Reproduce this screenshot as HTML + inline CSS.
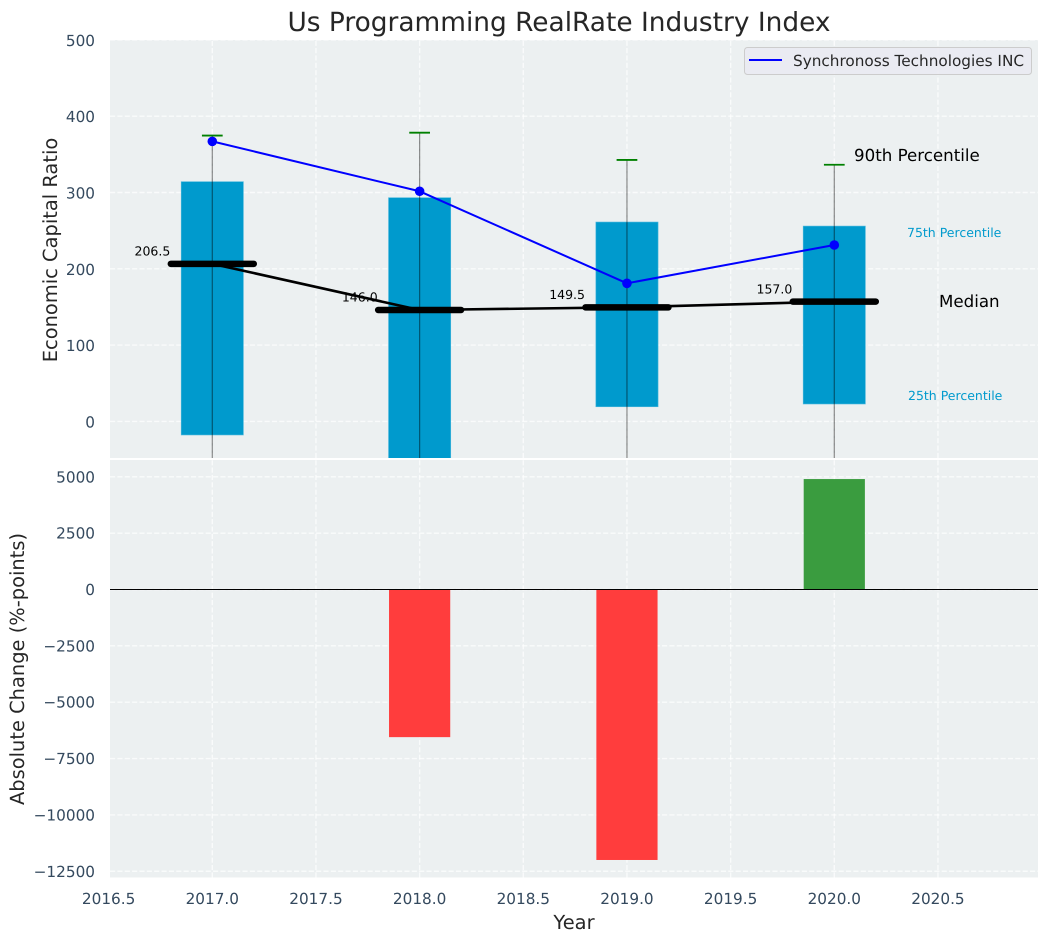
<!DOCTYPE html>
<html lang="en">
<head>
<meta charset="utf-8">
<title>Us Programming RealRate Industry Index</title>
<style>
html,body{margin:0;padding:0;background:#fff;width:1048px;height:942px;overflow:hidden}
svg{display:block;font-family:"DejaVu Sans","Liberation Sans",sans-serif;text-rendering:geometricPrecision}
</style>
</head>
<body>
<svg id="chart" xmlns="http://www.w3.org/2000/svg" width="1048" height="942" viewBox="0 0 1048 942">
  <defs>
    <clipPath id="clip-top"><rect x="110" y="40" width="928" height="418"/></clipPath>
    <clipPath id="clip-bottom"><rect x="110" y="460" width="928" height="417.5"/></clipPath>
  </defs>
  <rect x="110" y="40" width="928" height="418" fill="#ecf0f1"/>
  <rect x="110" y="460" width="928" height="417.5" fill="#ecf0f1"/>
  <g id="grid-top" clip-path="url(#clip-top)"></g>
  <g id="grid-bottom" clip-path="url(#clip-bottom)"></g>
  <g id="marks-top" clip-path="url(#clip-top)"></g>
  <g id="marks-bottom" clip-path="url(#clip-bottom)"></g>
  <g id="median-labels"></g>
  <g id="ticks"></g>

  <text x="559" y="31" text-anchor="middle" font-size="26.4px" fill="#262626">Us Programming RealRate Industry Index</text>
  <text transform="translate(57,250) rotate(-90)" text-anchor="middle" font-size="19.44px" fill="#262626">Economic Capital Ratio</text>
  <text transform="translate(24,669) rotate(-90)" text-anchor="middle" font-size="19.44px" fill="#262626">Absolute Change (%-points)</text>
  <text x="574" y="929" text-anchor="middle" font-size="19.44px" fill="#262626">Year</text>

  <text x="854" y="161" font-size="16.67px" fill="#000">90th Percentile</text>
  <text x="907" y="237" font-size="12.5px" fill="#009acd">75th Percentile</text>
  <text x="939" y="307" font-size="16.67px" fill="#000">Median</text>
  <text x="908" y="400" font-size="12.5px" fill="#009acd">25th Percentile</text>

  <g>
    <rect x="744.5" y="47.5" width="287" height="27" rx="3" fill="#eaeaf2" fill-opacity="0.9" stroke="#cccccc"/>
    <line x1="749" y1="60" x2="782" y2="60" stroke="#0000ff" stroke-width="2"/>
    <text x="793" y="66" font-size="15.28px" fill="#262626">Synchronoss Technologies INC</text>
  </g>
</svg>
<script>
const years = [2017, 2018, 2019, 2020];
const p90 = [374.6, 378.4, 342.7, 336.4];
const p75 = [314.2, 293.2, 261.3, 256];
const medians = [206.5, 146.0, 149.5, 157.0];
const p25 = [-17.8, -60, 19.2, 22.8];
const p10 = [-90, -130, -70, -70];
const companyValues = [367, 301.6, 181, 231.2];
const absoluteChange = [0, -6550, -12000, 4900];
const medianLabels = ['206.5', '146.0', '149.5', '157.0'];
const xTicks = [2016.5, 2017, 2017.5, 2018, 2018.5, 2019, 2019.5, 2020, 2020.5];
const xTickLabels = ['2016.5', '2017.0', '2017.5', '2018.0', '2018.5', '2019.0', '2019.5', '2020.0', '2020.5'];
const yTopTicks = [0, 100, 200, 300, 400, 500];
const yTopTickLabels = ['0', '100', '200', '300', '400', '500'];
const yBottomTicks = [5000, 2500, 0, -2500, -5000, -7500, -10000, -12500];
const yBottomTickLabels = ['5000', '2500', '0', '\u22122500', '\u22125000', '\u22127500', '\u221210000', '\u221212500'];

const NS = 'http://www.w3.org/2000/svg';
const xScale = function (v) { return 212.3 + 207.33 * (v - 2017); };
const yTop = function (v) { return 421.4 - 0.763 * v; };
const yBottom = function (v) { return 589.5 - 0.02254 * v; };

function make(parent, tag, attrs, text) {
  const el = document.createElementNS(NS, tag);
  Object.keys(attrs).forEach(function (k) { el.setAttribute(k, attrs[k]); });
  if (text !== undefined) el.textContent = text;
  parent.appendChild(el);
  return el;
}

const gridTop = document.getElementById('grid-top');
const gridBottom = document.getElementById('grid-bottom');
const marksTop = document.getElementById('marks-top');
const marksBottom = document.getElementById('marks-bottom');
const labelsGroup = document.getElementById('median-labels');
const ticksGroup = document.getElementById('ticks');
const gridStyle = { stroke: '#ffffff', 'stroke-width': 1.39, 'stroke-dasharray': '5.14 2.22', 'stroke-opacity': 0.7 };

xTicks.forEach(function (t, i) {
  const x = xScale(t);
  const a = make(gridTop, 'line', Object.assign({ x1: x, x2: x, y1: 458, y2: 40 }, gridStyle));
  
  
  const b = make(gridBottom, 'line', Object.assign({ x1: x, x2: x, y1: 877.5, y2: 460 }, gridStyle));
  
  
  const l = make(ticksGroup, 'text', { x: x, y: 904, 'text-anchor': 'middle', 'font-size': '15.28px', fill: '#34495e' }, xTickLabels[i]);
  
  
});

yTopTicks.forEach(function (t, i) {
  const y = yTop(t);
  const g = make(gridTop, 'line', Object.assign({ x1: 110, x2: 1038, y1: y, y2: y }, gridStyle));
  
  
  const l = make(ticksGroup, 'text', { x: 95, y: y + 6, 'text-anchor': 'end', 'font-size': '15.28px', fill: '#34495e' }, yTopTickLabels[i]);
  
  
});

yBottomTicks.forEach(function (t, i) {
  const y = yBottom(t);
  const g = make(gridBottom, 'line', Object.assign({ x1: 110, x2: 1038, y1: y, y2: y }, gridStyle));
  
  
  const l = make(ticksGroup, 'text', { x: 95, y: y + 5.5, 'text-anchor': 'end', 'font-size': '15.28px', fill: '#34495e' }, yBottomTickLabels[i]);
  
  
});

const halfBar = 0.15 * 207.33;
const halfMedian = 0.2 * 207.33;
const halfCap = 0.05 * 207.33;

years.forEach(function (yr, i) {
  const x = xScale(yr);
  const bar = make(marksTop, 'rect', {
    x: x - halfBar, width: halfBar * 2,
    y: yTop(p75[i]), height: yTop(p25[i]) - yTop(p75[i]),
    fill: '#009acd', stroke: '#4db8dc', 'stroke-width': 0.6
  });
  
  
});

function polyline(parent, vals, scale, color, width) {
  const pts = years.map(function (yr, i) { return xScale(yr) + ',' + scale(vals[i]); }).join(' ');
  return make(parent, 'polyline', { points: pts, fill: 'none', stroke: color, 'stroke-width': width, 'stroke-linejoin': 'round' });
}

const medianTrend = polyline(marksTop, medians, yTop, '#000000', 2.6);



years.forEach(function (yr, i) {
  const x = xScale(yr);
  const w = make(marksTop, 'line', { x1: x, x2: x, y1: yTop(p90[i]), y2: yTop(p10[i]), stroke: '#000000', 'stroke-opacity': 0.45, 'stroke-width': 1.2 });
  
  
  const c = make(marksTop, 'line', { x1: x - halfCap, x2: x + halfCap, y1: yTop(p90[i]), y2: yTop(p90[i]), stroke: '#008000', 'stroke-width': 1.8 });
  
  
  const m = make(marksTop, 'line', { x1: x - halfMedian, x2: x + halfMedian, y1: yTop(medians[i]), y2: yTop(medians[i]), stroke: '#000000', 'stroke-width': 6.5, 'stroke-linecap': 'round' });
  
  
  const t = make(labelsGroup, 'text', { x: x - halfMedian - 0.5, y: yTop(medians[i]) - 8.3, 'text-anchor': 'end', 'font-size': '12.5px', fill: '#000000' }, medianLabels[i]);
  
  
});

const companyLine = polyline(marksTop, companyValues, yTop, '#0000ff', 2);



years.forEach(function (yr, i) {
  const pt = make(marksTop, 'circle', { cx: xScale(yr), cy: yTop(companyValues[i]), r: 4.8, fill: '#0000ff' });
  
  
});

years.forEach(function (yr, i) {
  const v = absoluteChange[i];
  if (v === 0) return;
  const top = Math.min(yBottom(v), yBottom(0));
  const h = Math.abs(yBottom(v) - yBottom(0));
  const bar = make(marksBottom, 'rect', {
    x: xScale(yr) - halfBar + 0.5, width: halfBar * 2 - 1, y: top, height: h,
    fill: v < 0 ? '#ff3d3d' : '#3a9c3f'
  });
  
  
});

const zeroLine = make(marksBottom, 'line', { x1: 110, x2: 1038, y1: yBottom(0), y2: yBottom(0), stroke: '#000000', 'stroke-width': 1.1 });


</script>
</body>
</html>
